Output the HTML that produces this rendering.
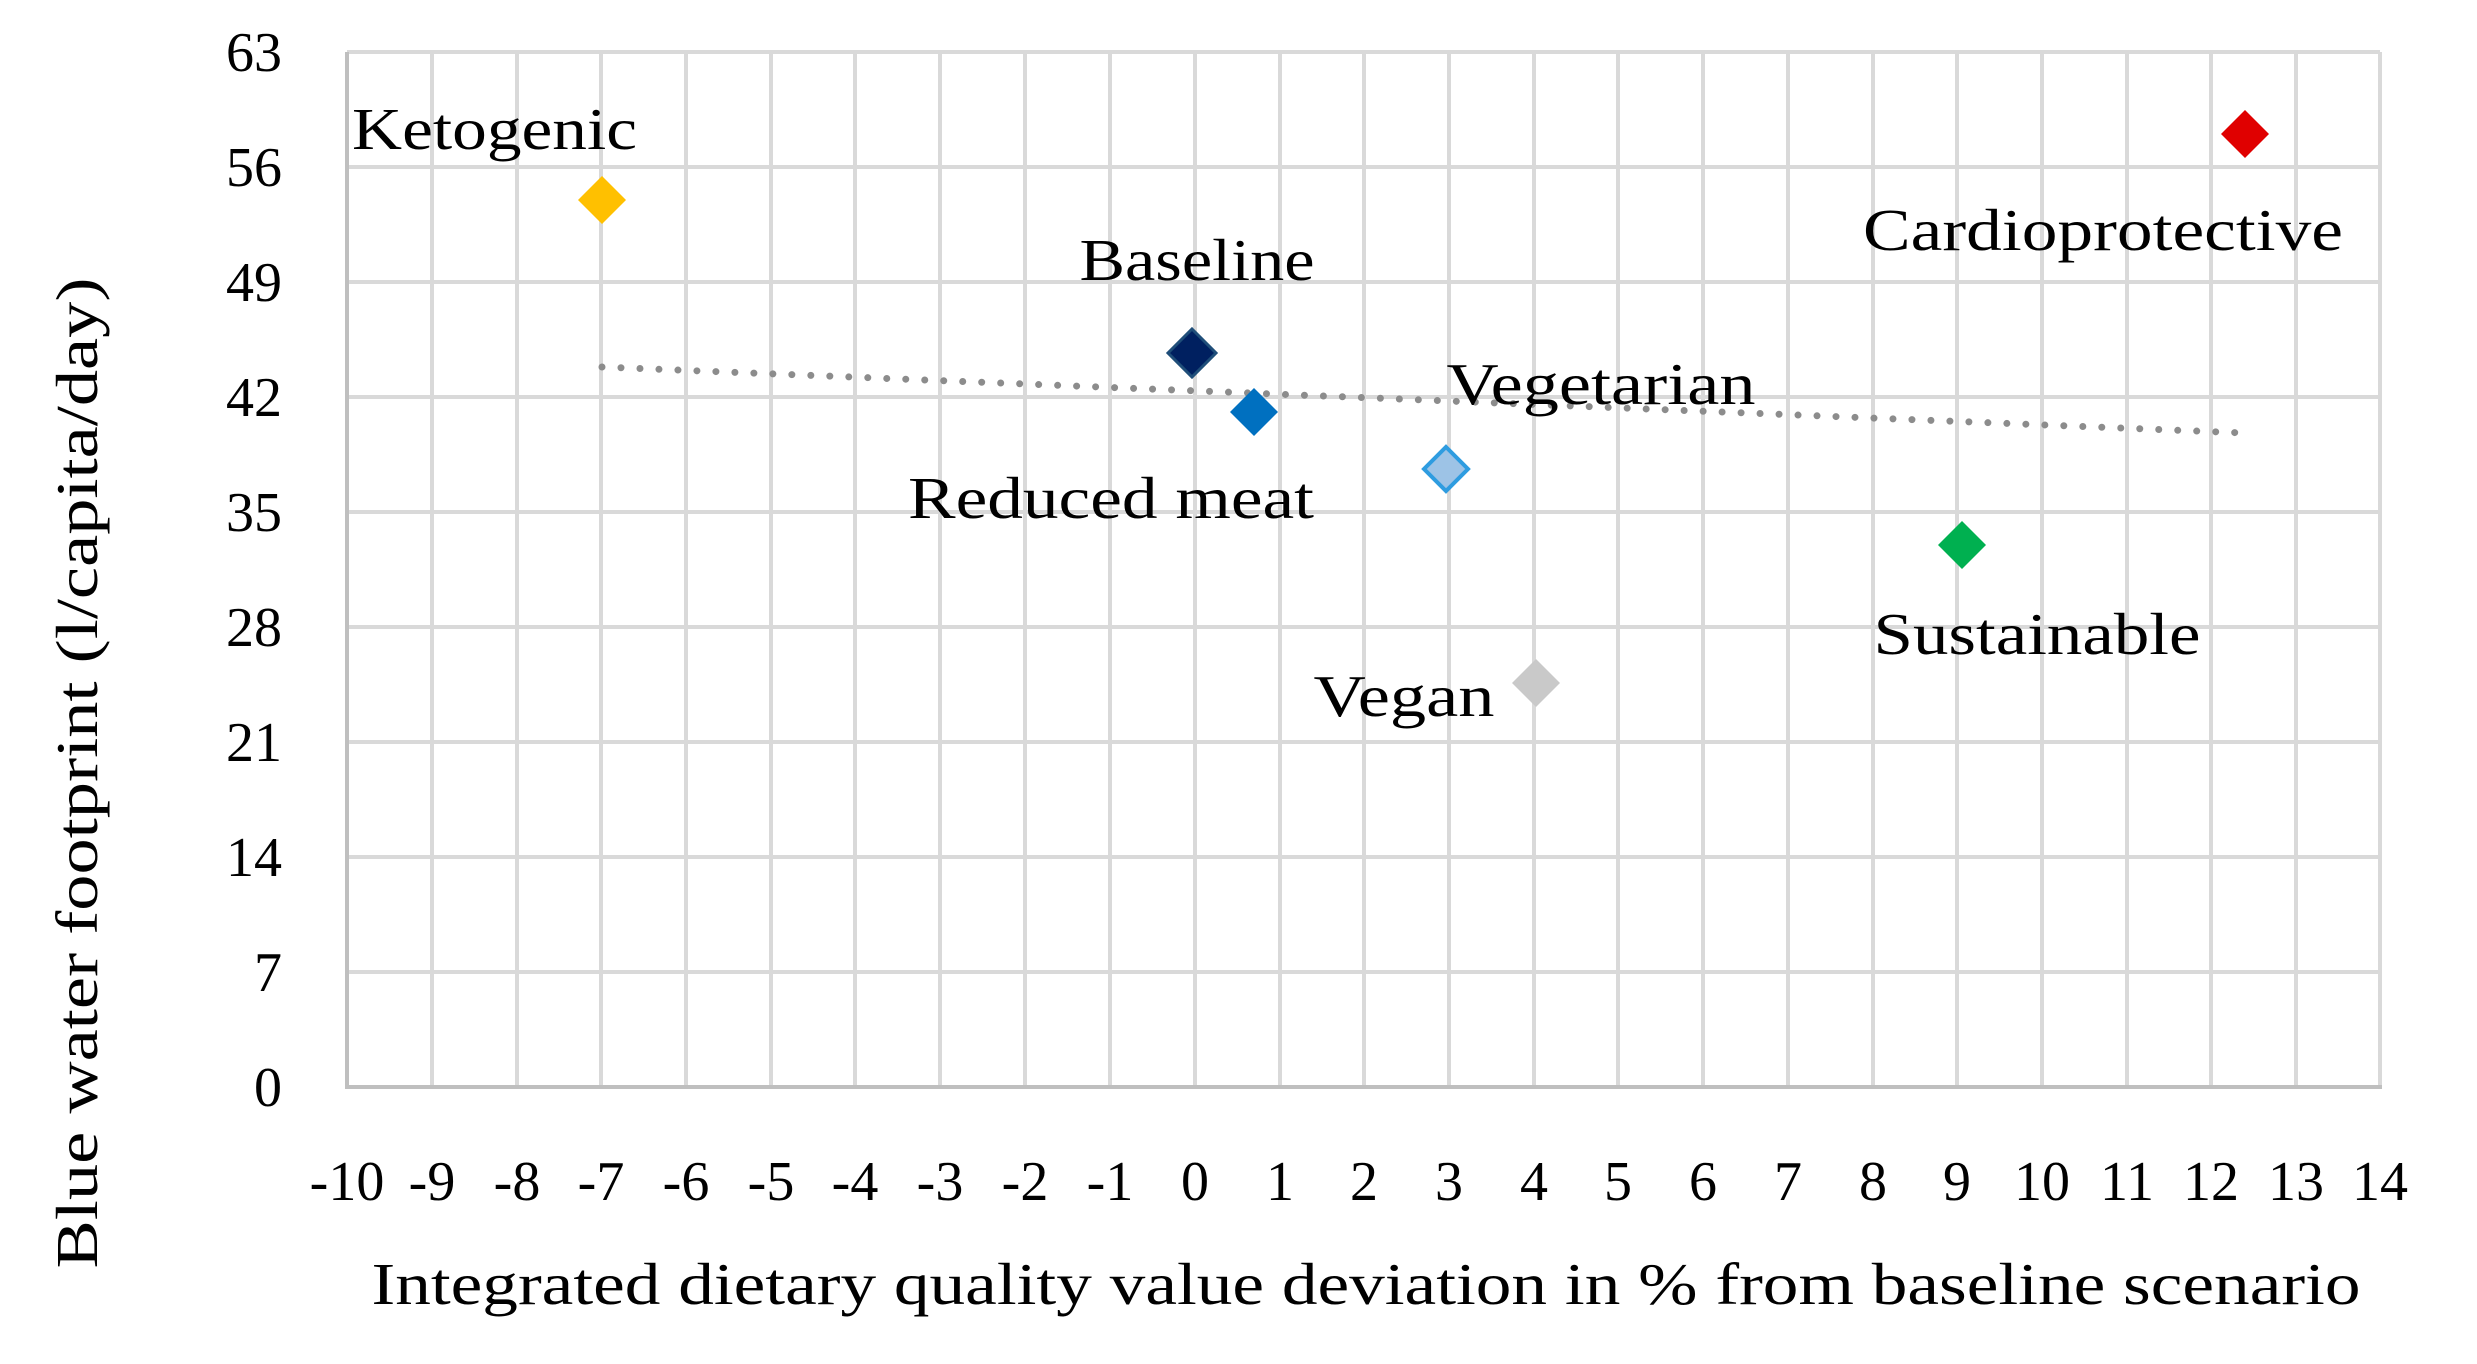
<!DOCTYPE html>
<html><head><meta charset="utf-8"><style>html,body{margin:0;padding:0;background:#fff}svg{display:block}</style></head>
<body>
<svg width="2477" height="1364" viewBox="0 0 2477 1364" xmlns="http://www.w3.org/2000/svg" font-family="Liberation Serif, serif" fill="#000">
<g stroke="#d9d9d9" stroke-width="4">
<line x1="347" y1="52" x2="2380" y2="52"/>
<line x1="347" y1="167" x2="2380" y2="167"/>
<line x1="347" y1="282" x2="2380" y2="282"/>
<line x1="347" y1="397" x2="2380" y2="397"/>
<line x1="347" y1="512" x2="2380" y2="512"/>
<line x1="347" y1="627" x2="2380" y2="627"/>
<line x1="347" y1="742" x2="2380" y2="742"/>
<line x1="347" y1="857" x2="2380" y2="857"/>
<line x1="347" y1="972" x2="2380" y2="972"/>
</g>
<g stroke="#d9d9d9" stroke-width="4">
<line x1="432" y1="52" x2="432" y2="1087"/><line x1="517" y1="52" x2="517" y2="1087"/><line x1="601" y1="52" x2="601" y2="1087"/><line x1="686" y1="52" x2="686" y2="1087"/><line x1="771" y1="52" x2="771" y2="1087"/><line x1="855" y1="52" x2="855" y2="1087"/><line x1="940" y1="52" x2="940" y2="1087"/><line x1="1025" y1="52" x2="1025" y2="1087"/><line x1="1110" y1="52" x2="1110" y2="1087"/><line x1="1195" y1="52" x2="1195" y2="1087"/><line x1="1280" y1="52" x2="1280" y2="1087"/><line x1="1364" y1="52" x2="1364" y2="1087"/><line x1="1449" y1="52" x2="1449" y2="1087"/><line x1="1534" y1="52" x2="1534" y2="1087"/><line x1="1618" y1="52" x2="1618" y2="1087"/><line x1="1703" y1="52" x2="1703" y2="1087"/><line x1="1788" y1="52" x2="1788" y2="1087"/><line x1="1873" y1="52" x2="1873" y2="1087"/><line x1="1957" y1="52" x2="1957" y2="1087"/><line x1="2042" y1="52" x2="2042" y2="1087"/><line x1="2127" y1="52" x2="2127" y2="1087"/><line x1="2211" y1="52" x2="2211" y2="1087"/><line x1="2296" y1="52" x2="2296" y2="1087"/><line x1="2380" y1="52" x2="2380" y2="1087"/>
</g>
<g stroke="#bfbfbf" stroke-width="4">
<line x1="347" y1="52" x2="347" y2="1089"/>
<line x1="345" y1="1087" x2="2382" y2="1087"/>
</g>
<line x1="602" y1="367" x2="2245" y2="433" stroke="#8c8c8c" stroke-width="7" stroke-dasharray="0 19" stroke-linecap="round"/>
<g font-size="56" text-anchor="end">
<text x="282" y="71">63</text><text x="282" y="186">56</text><text x="282" y="301">49</text><text x="282" y="416">42</text><text x="282" y="531">35</text><text x="282" y="646">28</text><text x="282" y="761">21</text><text x="282" y="876">14</text><text x="282" y="991">7</text><text x="282" y="1106">0</text>
</g>
<g font-size="56" text-anchor="middle">
<text x="347" y="1200">-10</text><text x="432" y="1200">-9</text><text x="517" y="1200">-8</text><text x="601" y="1200">-7</text><text x="686" y="1200">-6</text><text x="771" y="1200">-5</text><text x="855" y="1200">-4</text><text x="940" y="1200">-3</text><text x="1025" y="1200">-2</text><text x="1110" y="1200">-1</text><text x="1195" y="1200">0</text><text x="1280" y="1200">1</text><text x="1364" y="1200">2</text><text x="1449" y="1200">3</text><text x="1534" y="1200">4</text><text x="1618" y="1200">5</text><text x="1703" y="1200">6</text><text x="1788" y="1200">7</text><text x="1873" y="1200">8</text><text x="1957" y="1200">9</text><text x="2042" y="1200">10</text><text x="2127" y="1200">11</text><text x="2211" y="1200">12</text><text x="2296" y="1200">13</text><text x="2380" y="1200">14</text>
</g>
<text x="1366" y="1304" font-size="59" text-anchor="middle" textLength="1989" lengthAdjust="spacingAndGlyphs">Integrated dietary quality value deviation in % from baseline scenario</text>
<text transform="translate(97,773) rotate(-90)" font-size="59" text-anchor="middle" textLength="991" lengthAdjust="spacingAndGlyphs">Blue  water footprint (l/capita/day)</text>
<g font-size="59">
<text x="352" y="149" textLength="285" lengthAdjust="spacingAndGlyphs">Ketogenic</text>
<text x="1197" y="280" text-anchor="middle" textLength="235" lengthAdjust="spacingAndGlyphs">Baseline</text>
<text x="1601" y="404" text-anchor="middle" textLength="309" lengthAdjust="spacingAndGlyphs">Vegetarian</text>
<text x="1111" y="518" text-anchor="middle" textLength="406" lengthAdjust="spacingAndGlyphs">Reduced meat</text>
<text x="1404" y="716" text-anchor="middle" textLength="181" lengthAdjust="spacingAndGlyphs">Vegan</text>
<text x="2037" y="654" text-anchor="middle" textLength="327" lengthAdjust="spacingAndGlyphs">Sustainable</text>
<text x="2103" y="250" text-anchor="middle" textLength="480" lengthAdjust="spacingAndGlyphs">Cardioprotective</text>
</g>
<g>
<path d="M602 176 L626 200 L602 224 L578 200 Z" fill="#FFC000"/>
<path d="M1192 329 L1216 353 L1192 377 L1168 353 Z" fill="#002060" stroke="#1f4e79" stroke-width="3"/>
<path d="M1254 388 L1278 412 L1254 436 L1230 412 Z" fill="#0070C0"/>
<path d="M1446 447 L1468 469 L1446 491 L1424 469 Z" fill="#9DC3E6" stroke="#2E9CE0" stroke-width="4"/>
<path d="M1536 659 L1560 683 L1536 707 L1512 683 Z" fill="#C9C9C9"/>
<path d="M1962 521 L1986 545 L1962 569 L1938 545 Z" fill="#00B050"/>
<path d="M2245 110 L2269 134 L2245 158 L2221 134 Z" fill="#E00000"/>
</g>
</svg>
</body></html>
